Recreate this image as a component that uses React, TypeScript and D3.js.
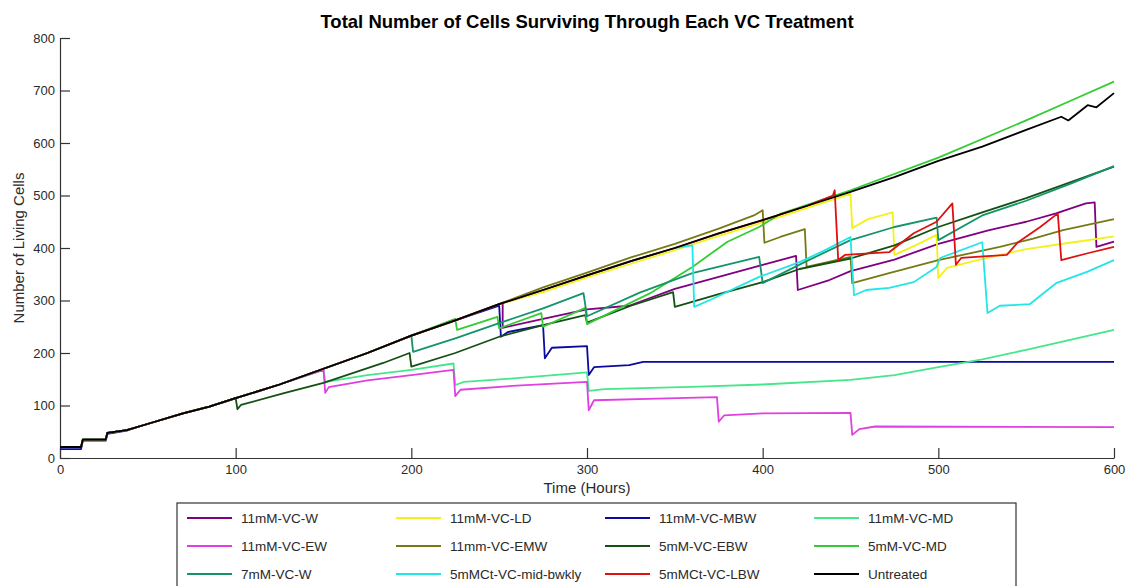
import * as d3 from "d3";
import { useEffect, useRef } from "react";

// time (hours), number of living cells
const untreated = [
  [0, 21], [12, 21], [13, 35], [26, 35], [27, 48], [38, 53], [45, 60], [55, 70], [70, 85], [85, 98],
  [100, 114], [125, 140], [150, 170], [175, 200], [200, 233], [225, 262], [250, 293], [275, 320],
  [300, 348], [325, 375], [350, 400], [375, 428], [400, 453], [425, 480], [450, 507], [475, 535],
  [500, 566], [525, 593], [550, 625], [570, 650], [574, 643], [585, 672], [590, 668], [600, 695],
];
const vcW11 = [
  [252, 296], [252, 248], [275, 265], [300, 283], [324, 290], [350, 322], [375, 345], [400, 368],
  [419, 385], [420, 320], [438, 339], [450, 356], [475, 378], [500, 408], [529, 434], [550, 450],
  [567, 466], [584, 485], [589, 487], [590, 402], [600, 412],
];
const vcLD11 = [
  [275, 316], [300, 344], [325, 370], [350, 396], [375, 423], [400, 449], [425, 476], [450, 503],
  [451, 438], [460, 455], [474, 468], [475, 387], [487, 405], [499, 425], [500, 343], [505, 362],
  [520, 375], [550, 398], [575, 410], [600, 422],
];
const vcMBW11 = [
  [0, 17], [12, 17], [13, 33], [26, 33], [27, 46], [38, 52], [250, 290], [251, 231], [255, 240],
  [275, 253], [276, 190], [280, 210], [300, 213], [301, 158], [304, 173], [324, 177], [332, 183], [600, 183],
];
const vcMD11 = [
  [150, 168], [151, 145], [175, 158], [200, 168], [224, 180], [225, 139], [230, 145], [260, 152],
  [300, 163], [301, 128], [310, 131], [364, 136], [400, 140], [450, 149], [475, 158], [500, 173],
  [525, 188], [550, 206], [575, 225], [600, 244],
];
const vcEW11 = [
  [150, 168], [151, 124], [153, 135], [175, 148], [200, 158], [224, 168], [225, 118], [228, 130],
  [260, 138], [300, 145], [301, 91], [304, 110], [340, 113], [374, 116], [375, 69], [378, 81],
  [400, 85], [450, 86], [451, 44], [455, 55], [464, 60], [600, 59],
];
const vcEMW11 = [
  [275, 325], [300, 353], [325, 382], [350, 408], [375, 437], [395, 462], [400, 472], [401, 410],
  [410, 421], [424, 436], [425, 364], [450, 383], [451, 333], [472, 352], [500, 377], [535, 402],
  [554, 418], [571, 434], [600, 455],
];
const vcEBW5 = [
  [100, 114], [101, 93], [103, 101], [127, 123], [150, 143], [184, 181], [199, 200], [200, 174],
  [225, 200], [250, 231], [275, 253], [299, 272], [300, 258], [325, 290], [349, 316], [350, 288],
  [375, 312], [400, 335], [421, 360], [450, 380], [475, 405], [500, 440], [525, 468], [550, 495],
  [575, 525], [600, 555],
];
const vcMD5 = [
  [225, 265], [226, 244], [249, 269], [250, 247], [274, 276], [275, 250], [299, 286], [300, 255],
  [336, 314], [360, 364], [380, 412], [398, 440], [410, 465], [450, 510], [500, 572], [550, 643],
  [575, 680], [600, 717],
];
const vcW7 = [
  [200, 233], [201, 202], [225, 228], [250, 257], [275, 285], [298, 314], [300, 270], [330, 315],
  [360, 352], [398, 383], [400, 333], [425, 375], [450, 415], [475, 440], [499, 458], [500, 415],
  [525, 462], [550, 490], [575, 522], [600, 556],
];
const vcMidBwkly = [
  [360, 405], [361, 288], [370, 301], [398, 345], [421, 373], [435, 395], [450, 421], [452, 310],
  [459, 320], [472, 324], [486, 335], [499, 364], [501, 381], [525, 411], [528, 276], [535, 290],
  [552, 293], [567, 333], [585, 355], [600, 377],
];
const vcLBW = [
  [440, 500], [441, 510], [443, 377], [447, 387], [472, 392], [486, 428], [499, 450], [508, 485],
  [510, 368], [513, 381], [539, 387], [545, 410], [558, 440], [568, 466], [570, 377], [585, 390], [600, 402],
];

const trunk = (until) => untreated.filter(d => d[0] < until);

const series = [
  { name: "11mM-VC-W", color: "#800080", data: [...trunk(252), ...vcW11] },
  { name: "11mM-VC-LD", color: "#f2f21a", data: [...trunk(275), ...vcLD11] },
  { name: "11mM-VC-MBW", color: "#0a0aa0", data: [...vcMBW11.slice(0, 6), ...untreated.filter(d => d[0] > 38 && d[0] < 250), ...vcMBW11.slice(6)] },
  { name: "11mM-VC-MD", color: "#46e68a", data: [...trunk(150), ...vcMD11] },
  { name: "11mM-VC-EW", color: "#e040e0", data: [...trunk(150), ...vcEW11] },
  { name: "11mm-VC-EMW", color: "#767a14", data: [...trunk(275), ...vcEMW11] },
  { name: "5mM-VC-EBW", color: "#145014", data: [...trunk(100), ...vcEBW5] },
  { name: "5mM-VC-MD", color: "#34cc34", data: [...trunk(225), ...vcMD5] },
  { name: "7mM-VC-W", color: "#14946a", data: [...trunk(200), ...vcW7] },
  { name: "5mMCt-VC-mid-bwkly", color: "#22e6e6", data: [...trunk(360), ...vcMidBwkly] },
  { name: "5mMCt-VC-LBW", color: "#e01010", data: [...trunk(440), ...vcLBW] },
  { name: "Untreated", color: "#000000", data: untreated },
];

const xTicks = [0, 100, 200, 300, 400, 500, 600];
const yTicks = [0, 100, 200, 300, 400, 500, 600, 700, 800];

const font = "'Liberation Sans', Arial, sans-serif";

const App = () => {
  const chartRef = useRef(null);

  useEffect(() => {
    document.body.style.margin = "0";
    const svg = d3.select(chartRef.current);
    svg.selectAll("*").remove();

    const margin = { left: 60, right: 13, top: 38, bottom: 128 };
    const width = 1127;
    const height = 586;

    const x = d3.scaleLinear().domain([0, 600]).range([margin.left, width - margin.right]);
    const y = d3.scaleLinear().domain([0, 800]).range([height - margin.bottom, margin.top]);

    // оси
    const xAxis = d3.axisBottom(x).tickValues(xTicks).tickSize(-10).tickSizeOuter(0).tickPadding(7);
    const gx = svg.append("g")
      .attr("transform", `translate(0, ${y(0)})`)
      .call(xAxis);
    const yAxis = d3.axisLeft(y).tickValues(yTicks).tickSize(-10).tickSizeOuter(0).tickPadding(5);
    const gy = svg.append("g")
      .attr("transform", `translate(${x(0)}, 0)`)
      .call(yAxis);
    [gx, gy].forEach(g => {
      g.selectAll("path, line").attr("stroke", "#333").attr("stroke-width", 1.2);
      g.selectAll("text").attr("fill", "#2a2a2a").style("font-family", font).style("font-size", "13px");
    });

    // линии
    const line = d3.line().x(d => x(d[0])).y(d => y(d[1]));
    svg.append("g")
      .selectAll("path")
      .data(series)
      .enter()
      .append("path")
      .attr("d", d => line(d.data))
      .attr("fill", "none")
      .attr("stroke", d => d.color)
      .attr("stroke-width", 1.8)
      .attr("stroke-linejoin", "round");

    // подписи
    svg.append("text")
      .attr("x", (x(0) + x(600)) / 2)
      .attr("y", 28)
      .attr("text-anchor", "middle")
      .style("font-family", font)
      .style("font-size", "18.5px")
      .style("font-weight", "bold")
      .text("Total Number of Cells Surviving Through Each VC Treatment");

    svg.append("text")
      .attr("x", (x(0) + x(600)) / 2)
      .attr("y", 493)
      .attr("text-anchor", "middle")
      .attr("fill", "#2a2a2a")
      .style("font-family", font)
      .style("font-size", "15px")
      .text("Time (Hours)");

    svg.append("text")
      .attr("transform", `translate(24, ${(y(0) + y(800)) / 2}) rotate(-90)`)
      .attr("text-anchor", "middle")
      .attr("fill", "#2a2a2a")
      .style("font-family", font)
      .style("font-size", "15px")
      .text("Number of Living Cells");

    // легенда
    const legend = svg.append("g");
    legend.append("rect")
      .attr("x", 177)
      .attr("y", 503)
      .attr("width", 1016 - 177)
      .attr("height", 120)
      .attr("fill", "white")
      .attr("stroke", "#333")
      .attr("stroke-width", 1.2);

    const items = legend.selectAll(".item")
      .data(series)
      .enter()
      .append("g")
      .attr("class", "item")
      .attr("transform", (d, i) => `translate(${187 + (i % 4) * 209}, ${518 + Math.floor(i / 4) * 28})`);
    items.append("line")
      .attr("x1", 0)
      .attr("x2", 45)
      .attr("stroke", d => d.color)
      .attr("stroke-width", 2);
    items.append("text")
      .attr("x", 54)
      .attr("y", 5)
      .attr("fill", "#2a2a2a")
      .style("font-family", font)
      .style("font-size", "13.5px")
      .text(d => d.name);
  }, []);

  return (
    <svg ref={chartRef} width={1127} height={586} style={{ display: "block", background: "white" }}></svg>
  );
};

export default App;
